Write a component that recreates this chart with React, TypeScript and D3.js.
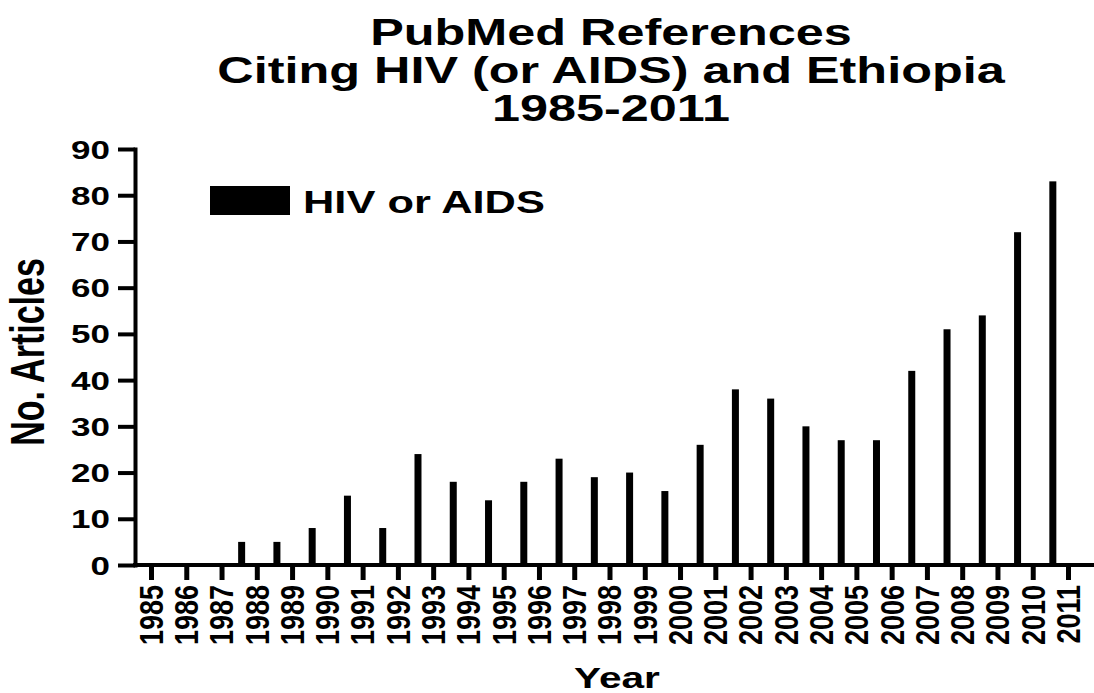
import * as d3 from "d3";
import * as React from "react";

const years = [
    "1985", "1986", "1987", "1988", "1989", "1990", "1991", "1992", "1993",
    "1994", "1995", "1996", "1997", "1998", "1999", "2000", "2001", "2002",
    "2003", "2004", "2005", "2006", "2007", "2008", "2009", "2010", "2011",
];
const articles = [
    0, 0, 0, 5, 5, 8, 15, 8, 24,
    18, 14, 18, 23, 19, 20, 16, 26, 38,
    36, 30, 27, 27, 42, 51, 54, 72, 83,
];
const yTicks = [0, 10, 20, 30, 40, 50, 60, 70, 80, 90];
const titleLines = ["PubMed References", "Citing HIV (or AIDS) and Ethiopia", "1985-2011"];
const seriesName = "HIV or AIDS";
const xTitle = "Year";
const yTitle = "No. Articles";

const width = 1094;
const height = 693;
const font = "'Liberation Sans', Arial, Helvetica, sans-serif";
// the original picture is stretched sideways, so text gets a horizontal scale
const sx = 1.4;

export default class App extends React.Component<{}, {}> {
    mountRef: HTMLDivElement;

    componentDidMount() {
        const root = d3.select(this.mountRef);
        root.selectAll("*").remove();

        const svg = root.append("svg")
            .attr("width", width)
            .attr("height", height)
            .style("position", "absolute")
            .style("left", 0)
            .style("top", 0)
            .style("background", "#fff")
            .attr("font-family", font)
            .attr("font-weight", "bold");

        const x = d3.scalePoint<string>()
            .domain(years)
            .range([151, 1068]);

        const y = d3.scaleLinear()
            .domain([0, 90])
            .range([565, 149]);

        // title
        svg.append("g")
            .selectAll("text")
            .data(titleLines)
            .join("text")
            .attr("transform", (d, i) => `translate(611,${45 + i * 38}) scale(${sx},1)`)
            .attr("text-anchor", "middle")
            .attr("font-size", 36)
            .attr("fill", "#000")
            .text(d => d);

        // bars, drawn left of their tick like the original
        const barW = 7;
        svg.append("g")
            .selectAll("rect")
            .data(years.map((yr, i) => ({ yr, v: articles[i] })))
            .join("rect")
            .attr("x", d => x(d.yr)! - 0.43 * x.step() - barW / 2)
            .attr("y", d => y(d.v))
            .attr("width", barW)
            .attr("height", d => y(0) - y(d.v))
            .attr("fill", "#000");

        // y axis
        svg.append("g").call(g => g
            .attr("transform", `translate(${x.range()[0] - 16},0)`)
            .call(d3.axisLeft(y).tickValues(yTicks).tickSize(17).tickSizeOuter(0))
            .attr("font-size", 25)
            .attr("font-family", font)
            .call(g => g.select(".domain").attr("stroke-width", 4).attr("stroke-linecap", "square"))
            .call(g => g.selectAll(".tick line").attr("stroke-width", 4))
            .call(g => g.selectAll(".tick text")
                .attr("x", null)
                .attr("dy", "0.36em")
                .attr("fill", "#000")
                .attr("transform", `translate(-25,0) scale(${sx},1)`)));

        // x axis
        svg.append("line")
            .attr("x1", x.range()[0] - 18)
            .attr("x2", width)
            .attr("y1", y(0))
            .attr("y2", y(0))
            .attr("stroke", "#000")
            .attr("stroke-width", 4);

        svg.append("g").call(g => g
            .attr("transform", `translate(0,${y(0)})`)
            .call(d3.axisBottom(x).tickSize(15).tickSizeOuter(0))
            .attr("font-size", 27)
            .attr("font-family", font)
            .call(g => g.select(".domain").remove())
            .call(g => g.selectAll(".tick line").attr("stroke-width", 5))
            .call(g => g.selectAll(".tick text")
                .attr("y", null)
                .attr("dy", "0.35em")
                .attr("text-anchor", "end")
                .attr("fill", "#000")
                .attr("transform", "translate(0,20) scale(1.2,1) rotate(-90)")));

        // axis titles
        svg.append("text")
            .attr("transform", `translate(617,688) scale(${sx},1)`)
            .attr("text-anchor", "middle")
            .attr("font-size", 29)
            .text(xTitle);

        svg.append("text")
            .attr("transform", `translate(44,352) scale(${sx},1) rotate(-90)`)
            .attr("text-anchor", "middle")
            .attr("font-size", 34)
            .text(yTitle);

        // legend
        svg.append("rect")
            .attr("x", 210)
            .attr("y", 186)
            .attr("width", 80)
            .attr("height", 29)
            .attr("fill", "#000");

        svg.append("text")
            .attr("transform", `translate(303,213) scale(${sx},1)`)
            .attr("font-size", 31)
            .text(seriesName);
    }

    render() {
        return <div ref={ref => { this.mountRef = ref!; }} />;
    }
}
